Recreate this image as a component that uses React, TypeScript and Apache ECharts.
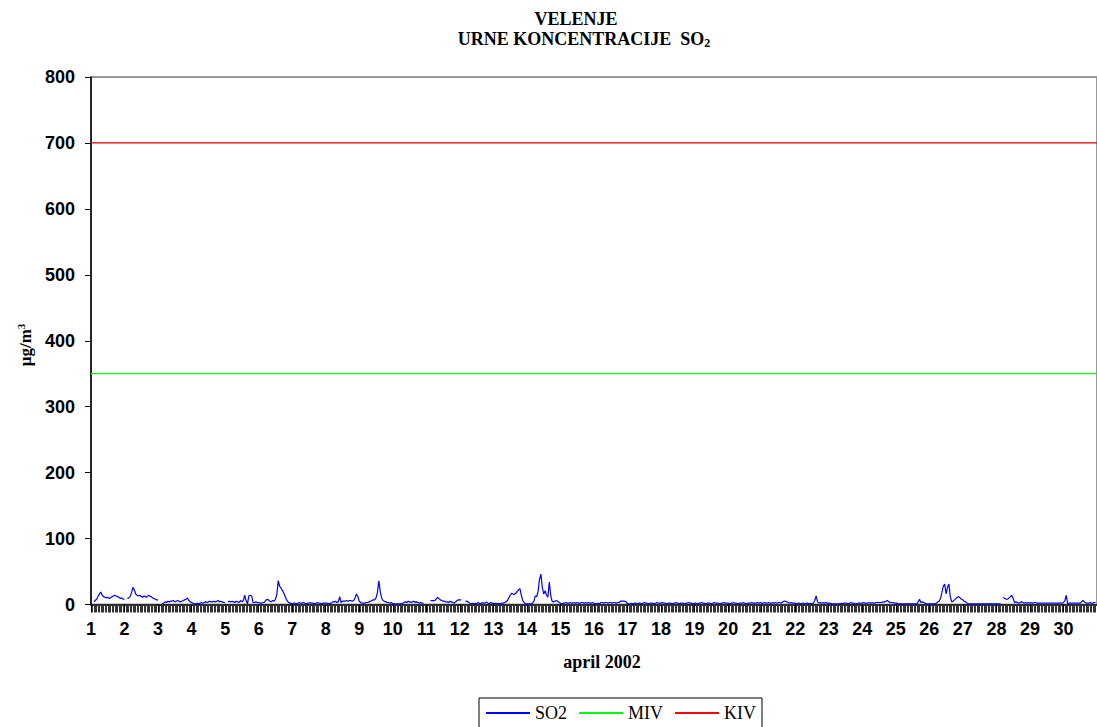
import React, { useEffect, useRef } from "react";
import * as echarts from "echarts";

// Hourly SO2 concentrations (µg/m³), April 2002, one array per day (24 hours)
const day01 = [null, null, 4, 6, 8, 12, 16, 19, 14, 12, 11, 10, 11, 9, 10, 12, 13, 14, 13, 12, 11, 9, 10, 8];
const day02 = [8, null, 9, 10, 12, 18, 26, 22, 16, 14, 13, 14, 12, 11, 13, 12, 11, 14, 13, 12, 10, 9, 8, 7];
const day03 = [7, null, null, 1, 2, 4, 3, 5, 4, 5, 5, 6, 4, 5, 6, 5, 4, 5, 6, 7, 8, 10, 6, 4];
const day04 = [3, 2, 1, 1, 2, 1, 2, 3, 2, 3, 4, 3, 4, 5, 4, 4, 5, 4, 5, 6, 4, 5, 4, 3];
const day05 = [3, null, 4, 5, 4, 5, 4, 3, 5, 4, 3, 6, 4, 6, 14, 6, 1, 13, 14, 13, 3, 3, 4, 3];
const day06 = [3, 2, 2, 3, 3, 6, 8, 7, 5, 4, 6, 5, 8, 15, 36, 28, 25, 21, 17, 12, 7, 4, 2, 2];
const day07 = [1, 2, 2, 1, 2, 3, 2, 2, 3, 2, 1, 2, 2, 3, 2, 2, 1, 2, 3, 2, 2, 1, 2, 2];
const day08 = [2, 2, 1, 2, 2, 4, 4, 5, 3, 4, 12, 3, 5, 5, 5, 6, 5, 6, 6, 5, 6, 10, 16, 12];
const day09 = [5, 3, 2, 2, 2, 3, 3, 4, 5, 6, 7, 7, 10, 18, 36, 20, 10, 6, 5, 4, 3, 3, 2, 3];
const day10 = [1, 1, 1, 1, 1, 1, 1, 2, 3, 4, 3, 5, 4, 3, 4, 5, 3, 4, 3, 2, 3, 2, 2, null];
const day11 = [3, null, null, 6, 6, 6, 6, 8, 11, 9, 7, 6, 5, 5, 4, 4, 3, 5, 4, 3, 2, 4, 6, 7];
const day12 = [7, 7, null, null, 5, 5, 4, 2, 1, 2, 1, 2, 1, 3, 2, 1, 3, 2, 2, 4, 2, 1, 3, 2];
const day13 = [2, 1, 2, 1, 2, 1, 2, 2, 3, 4, 6, 10, 14, 17, 16, 15, 17, 20, 22, 24, 14, 6, 3, 1];
const day14 = [1, 1, 1, 1, 2, 5, 13, 12, 20, 38, 46, 26, 16, 21, 14, 11, 34, 14, 5, 4, 5, 6, 5, 3];
const day15 = [2, 1, 2, 2, 3, 2, 2, 3, 2, 2, 3, 2, 3, 2, 2, 3, 3, 2, 3, 2, 3, 2, 2, 3];
const day16 = [2, 1, 1, 2, 1, 3, 3, 2, 3, 3, 2, 3, 3, 2, 3, 3, 2, 3, 3, 5, 5, 5, 5, 4];
const day17 = [1, 1, 1, 2, 1, 2, 2, 1, 2, 2, 1, 2, 3, 2, 2, 1, 2, 2, 2, 1, 2, 3, 2, 2];
const day18 = [2, 3, 2, 2, 1, 2, 2, 2, 1, 2, 2, 3, 2, 1, 2, 2, 2, 1, 2, 2, 3, 2, 2, 1];
const day19 = [2, 2, 1, 2, 2, 3, 2, 2, 1, 2, 2, 2, 1, 2, 3, 2, 2, 2, 1, 2, 2, 3, 2, 2];
const day20 = [2, 1, 2, 2, 3, 2, 2, 1, 2, 2, 2, 3, 2, 1, 2, 2, 2, 3, 2, 2, 2, 3, 2, 3];
const day21 = [2, 2, 3, 2, 2, 3, 2, 2, 3, 2, 3, 2, 3, 3, 2, 4, 5, 5, 4, 3, 2, 3, 2, 2];
const day22 = [2, 1, 2, 2, 1, 2, 2, 1, 2, 2, 1, 2, 1, 2, 6, 13, 4, 2, 3, 2, 3, 2, 3, 2];
const day23 = [2, 2, 1, 1, 1, 1, 1, 1, 1, 2, 1, 2, 2, 2, 1, 2, 3, 2, 2, 1, 1, 2, 2, 2];
const day24 = [2, 3, 2, 2, 2, 3, 2, 3, 2, 2, 3, 3, 3, 3, 3, 4, 4, 5, 6, 4, 3, 3, 3, 2];
const day25 = [2, 2, 1, 1, 1, 1, 1, 1, 1, 1, 1, 1, 1, 1, 1, 1, 4, 8, 3, 4, 3, 2, 1, 1];
const day26 = [1, 1, 1, 1, 1, 2, 4, 5, 9, 18, 28, 31, 16, 26, 31, 12, 4, 5, 7, 9, 11, 12, 10, 8];
const day27 = [7, 5, 4, 2, 1, 1, 1, 1, 1, 1, 1, 1, 1, 1, 1, 1, 1, 1, 1, 1, 1, 1, 1, 1];
const day28 = [1, 1, 1, 1, null, 11, 9, 8, 8, 10, 12, 14, 9, 3, 4, 3, 2, 3, 4, 3, 2, 3, 2, 3];
const day29 = [2, 3, 2, 3, 3, 2, 2, 2, 2, 2, 2, 2, 2, 2, 2, 2, 2, 2, 2, 2, 2, 2, 2, 2];
const day30 = [3, 6, 14, 1, 2, 2, 2, 2, 2, 2, 2, 2, 2, 4, 6, 4, 2, 2, 2, 3, 2, 2, 3, 3];

const days = [
  day01, day02, day03, day04, day05, day06, day07, day08, day09, day10,
  day11, day12, day13, day14, day15, day16, day17, day18, day19, day20,
  day21, day22, day23, day24, day25, day26, day27, day28, day29, day30,
];

const MIV = 350;
const KIV = 700;
const HOURS = 720;
const yTicks = [0, 100, 200, 300, 400, 500, 600, 700, 800];

export default function App() {
  const ref = useRef<HTMLDivElement>(null);

  useEffect(() => {
    if (!ref.current) return;
    const chart = echarts.init(ref.current, null, { renderer: "svg" });

    const so2: any[] = [];
    days.forEach((d, di) => {
      d.forEach((v, hi) => {
        so2.push([di * 24 + hi, v === null ? "-" : v]);
      });
    });

    const sans = "Liberation Sans, Arial, sans-serif";
    const serif = "Liberation Serif, Times New Roman, serif";

    chart.setOption({
      animation: false,
      backgroundColor: "#fff",
      grid: {
        left: 91,
        top: 77,
        bottom: 122.5,
        right: -8,
        show: true,
        borderColor: "#999",
        borderWidth: 2,
      },
      graphic: [
        {
          type: "text",
          x: 576,
          y: 19,
          style: {
            text: "VELENJE",
            font: `bold 18px ${serif}`,
            fill: "#000",
            align: "center",
            verticalAlign: "middle",
          },
        },
        {
          type: "text",
          x: 584,
          y: 39,
          style: {
            text: "{a|URNE KONCENTRACIJE  SO}{b|2}",
            align: "center",
            verticalAlign: "middle",
            rich: {
              a: { font: `bold 18px ${serif}`, fill: "#000" } as any,
              b: { font: `bold 12px ${serif}`, fill: "#000", padding: [8, 0, 0, 0] } as any,
            },
          } as any,
        },
        {
          type: "text",
          x: 25,
          y: 345,
          rotation: Math.PI / 2,
          style: {
            text: "{a|µg/m}{b|3}",
            align: "center",
            verticalAlign: "middle",
            rich: {
              a: { font: `bold 17px ${serif}`, fill: "#000" } as any,
              b: { font: `bold 11px ${serif}`, fill: "#000", padding: [0, 0, 8, 0] } as any,
            },
          } as any,
        },
        {
          type: "text",
          x: 602,
          y: 662,
          style: {
            text: "april 2002",
            font: `bold 18px ${serif}`,
            fill: "#000",
            align: "center",
            verticalAlign: "middle",
          },
        },
      ],
      legend: {
        left: 479,
        top: 698,
        itemWidth: 44,
        itemHeight: 2,
        itemGap: 12,
        padding: [6, 6, 6, 7],
        borderColor: "#000",
        borderWidth: 1,
        textStyle: { fontFamily: serif, fontSize: 18, color: "#000" },
        data: [
          { name: "SO2", icon: "rect" },
          { name: "MIV", icon: "rect" },
          { name: "KIV", icon: "rect" },
        ],
      },
      xAxis: {
        type: "value",
        min: 0,
        max: HOURS,
        interval: 24,
        axisLine: { show: true, lineStyle: { color: "#000", width: 1.5 } },
        axisTick: { show: true, length: 8, lineStyle: { color: "#000" } },
        minorTick: { show: true, splitNumber: 24, length: 8, lineStyle: { color: "#333" } },
        splitLine: { show: false },
        minorSplitLine: { show: false },
        axisLabel: {
          margin: 15,
          fontFamily: sans,
          fontWeight: "bold",
          fontSize: 18,
          color: "#000",
          showMaxLabel: false,
          formatter: (v: number) => (v < HOURS ? String(v / 24 + 1) : ""),
        },
      },
      yAxis: {
        type: "value",
        min: yTicks[0],
        max: yTicks[yTicks.length - 1],
        interval: 100,
        axisLine: { show: true, lineStyle: { color: "#000", width: 1.5 } },
        axisTick: { show: true, length: 6, lineStyle: { color: "#000" } },
        splitLine: { show: false },
        axisLabel: {
          margin: 16,
          fontFamily: sans,
          fontWeight: "bold",
          fontSize: 18,
          color: "#000",
        },
      },
      series: [
        {
          name: "SO2",
          type: "line",
          data: so2,
          symbol: "none",
          connectNulls: false,
          color: "#0000ff",
          lineStyle: { color: "#0000ff", width: 1.2 },
          z: 3,
        },
        {
          name: "MIV",
          type: "line",
          data: [[0, MIV], [HOURS, MIV]],
          symbol: "none",
          color: "#00ff00",
          lineStyle: { color: "#00ff00", width: 1.2 },
          z: 2,
        },
        {
          name: "KIV",
          type: "line",
          data: [[0, KIV], [HOURS, KIV]],
          symbol: "none",
          color: "#ff0000",
          lineStyle: { color: "#e00000", width: 1.2 },
          z: 2,
        },
      ],
    });

    return () => chart.dispose();
  }, []);

  return (
    <div
      ref={ref}
      style={{ position: "absolute", left: 0, top: 0, width: 1097, height: 727 }}
    />
  );
}
